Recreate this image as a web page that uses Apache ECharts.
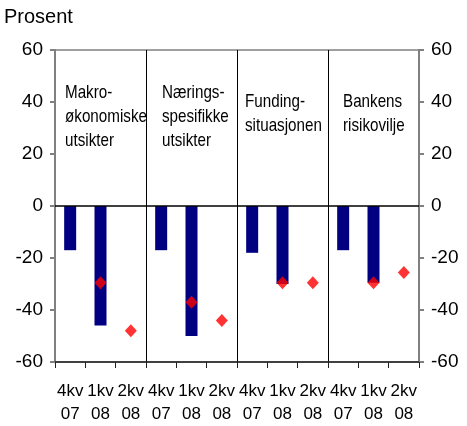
<!DOCTYPE html>
<html>
<head>
<meta charset="utf-8">
<script src="https://cdn.jsdelivr.net/npm/echarts@6/dist/echarts.min.js"></script>
<style>html,body{margin:0;padding:0;background:#fff}#c{width:467px;height:426px}</style>
</head>
<body>
<div id="c"></div>
<script>
var categories = ['4kv\n07','1kv\n08','2kv\n08','4kv\n07','1kv\n08','2kv\n08','4kv\n07','1kv\n08','2kv\n08','4kv\n07','1kv\n08','2kv\n08'];
var barValues = [-17,-46,null, -17,-50,null, -18,-30,null, -17,-29.5,null];
var diamondValues = [null,-29.5,-48, null,-37,-44, null,-29.5,-29.5, null,-29.5,-25.6];
var groupNames = ['Makro-\nøkonomiske\nutsikter','Nærings-\nspesifikke\nutsikter','Funding-\nsituasjonen','Bankens\nrisikovilje'];
var yTicks = [-60,-40,-20,0,20,40,60];

var FN = 'Liberation Sans';
var chart = echarts.init(document.getElementById('c'), null, {renderer:'canvas'});
var groupTextPos = [[65,81],[162,81],[245,90],[343,90]];
var graphics = groupNames.map(function(t,i){
  return {type:'text', x:groupTextPos[i][0], y:groupTextPos[i][1], scaleX:0.8,
    style:{text:t, fontSize:19, fontFamily:FN, fill:'#000', lineHeight:24}};
});
graphics.push({type:'text', x:4, y:7, style:{text:'Prosent', fontSize:20, fontFamily:FN, fill:'#000'}});
var yAxisBase = function(pos){
  return {type:'value', position:pos, min:yTicks[0], max:yTicks[yTicks.length-1], interval:20,
    axisLine:{show:true, lineStyle:{color:'#808080', width:2}},
    axisTick:{show:true, inside:false, length:5, lineStyle:{color:'#808080', width:2}},
    axisLabel:{fontFamily:FN, fontSize:19, color:'#000', margin:12},
    splitLine:{show:false}};
};
chart.setOption({
  animation:false,
  grid:{left:55, right:48, top:50, bottom:64, show:true, borderColor:'#808080', borderWidth:1.5},
  graphic:graphics,
  xAxis:{type:'category', data:categories, position:'bottom',
    axisLine:{onZero:false, lineStyle:{color:'#222', width:1.5}},
    axisTick:{show:true, interval:0, length:6, lineStyle:{color:'#222'}},
    axisLabel:{interval:0, fontFamily:FN, fontSize:17, color:'#000', lineHeight:23, margin:18},
    splitLine:{show:true, interval:function(i){return i>0 && i%3===0;}, lineStyle:{color:'#000', width:1}}
  },
  yAxis:[yAxisBase('left'), yAxisBase('right')],
  series:[
    {type:'bar', data:barValues, barWidth:12, itemStyle:{color:'#000080'},
     markLine:{silent:true, symbol:'none', label:{show:false}, lineStyle:{color:'#000', type:'solid', width:1.5},
       data:[{yAxis:0}]}},
    {type:'scatter', data:diamondValues, symbol:'diamond', symbolSize:[12,13], itemStyle:{color:'#ff0000'}, z:5}
  ]
});
</script>
</body>
</html>
